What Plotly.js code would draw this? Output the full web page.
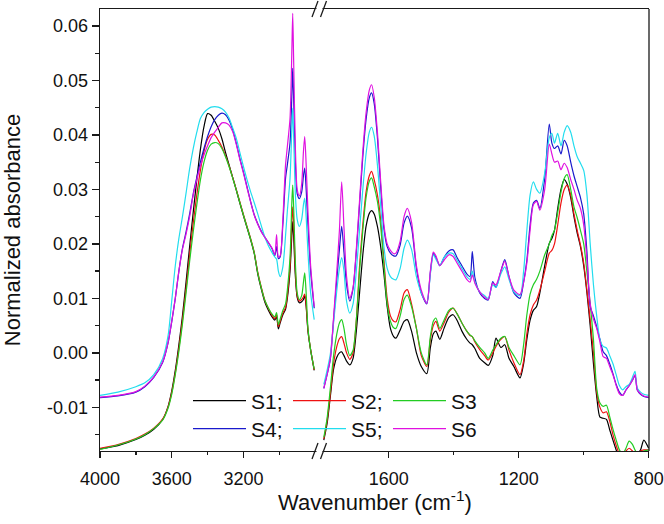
<!DOCTYPE html>
<html>
<head>
<meta charset="utf-8">
<script src="https://cdn.plot.ly/plotly-3.0.1.min.js"></script>
<style>html,body{margin:0;padding:0;background:#fff;}#chart{width:664px;height:524px;}</style>
</head>
<body>
<div id="chart"></div>
<script>
// ---- data ----
const seriesNames = ["S1;", "S2;", "S3", "S4;", "S5;", "S6"];
const seriesColors = ["#000000", "#ee1111", "#22cc22", "#1a1acc", "#22ddee", "#e011e0"];

const leftWavenumber = [4000,3900,3800,3750,3700,3650,3620,3600,3580,3560,3540,3520,3500,3480,3460,3440,3420,3400,3380,3360,3340,3320,3300,3280,3260,3240,3220,3200,3180,3160,3140,3120,3100,3080,3060,3040,3025,3015,3005,2995,2980,2965,2955,2940,2930,2925,2920,2910,2900,2888,2875,2865,2858,2850,2840,2825,2805];

const rightWavenumber = [1800,1790,1780,1770,1760,1752,1745,1738,1730,1720,
1710,1700,1690,1680,1670,1660,1653,1645,1635,1625,
1615,1605,1595,1585,1578,1565,1553,1543,1530,1515,
1500,1483,1472,1463,1455,1443,1430,1415,1402,1390,
1375,1360,1350,1343,1335,1320,1305,1294,1280,1270,
1255,1243,1230,1215,1196,1185,1175,1165,1155,1145,
1135,1120,1106,1098,1090,1080,1070,1060,1051,1040,
1030,1020,1010,1000,990,980,970,960,950,940,
930,920,910,900,890,880,870,860,850,842,
835,825,815,800];

const s1Left = [-0.0176,-0.0170,-0.0159,-0.0151,-0.0140,-0.0122,-0.0098,-0.0070,-0.0032,0.0015,0.0068,0.0130,0.0195,0.0258,0.0318,0.0373,0.0415,0.0439,0.0436,0.0425,0.0412,0.0393,0.0368,0.0345,0.0322,0.0299,0.0275,0.0252,0.0230,0.0208,0.0183,0.0145,0.0117,0.0093,0.0078,0.0066,0.0060,0.0066,0.0044,0.0055,0.0070,0.0080,0.0100,0.0150,0.0215,0.0241,0.0215,0.0140,0.0102,0.0092,0.0094,0.0098,0.0105,0.0085,0.0040,0.0005,-0.0032];
const s2Left = [-0.0175,-0.0168,-0.0157,-0.0149,-0.0138,-0.0121,-0.0099,-0.0073,-0.0037,0.0008,0.0060,0.0118,0.0180,0.0238,0.0290,0.0335,0.0370,0.0392,0.0401,0.0400,0.0390,0.0378,0.0362,0.0343,0.0322,0.0300,0.0277,0.0254,0.0232,0.0210,0.0185,0.0148,0.0120,0.0096,0.0081,0.0069,0.0063,0.0070,0.0048,0.0058,0.0073,0.0083,0.0105,0.0160,0.0240,0.0268,0.0240,0.0150,0.0105,0.0095,0.0098,0.0103,0.0108,0.0088,0.0042,0.0006,-0.0031];
const s3Left = [-0.0177,-0.0169,-0.0158,-0.0150,-0.0139,-0.0123,-0.0101,-0.0076,-0.0040,0.0003,0.0053,0.0110,0.0168,0.0222,0.0272,0.0317,0.0350,0.0372,0.0383,0.0386,0.0384,0.0375,0.0360,0.0342,0.0321,0.0299,0.0276,0.0253,0.0231,0.0209,0.0184,0.0147,0.0119,0.0096,0.0082,0.0071,0.0066,0.0074,0.0052,0.0062,0.0078,0.0090,0.0115,0.0175,0.0275,0.0308,0.0270,0.0165,0.0110,0.0098,0.0105,0.0130,0.0147,0.0110,0.0045,0.0005,-0.0030];
const s4Left = [-0.0082,-0.0079,-0.0072,-0.0062,-0.0045,-0.0017,0.0019,0.0057,0.0100,0.0150,0.0192,0.0222,0.0255,0.0292,0.0322,0.0350,0.0375,0.0397,0.0415,0.0428,0.0436,0.0440,0.0437,0.0427,0.0410,0.0385,0.0357,0.0332,0.0305,0.0278,0.0254,0.0237,0.0223,0.0212,0.0202,0.0191,0.0178,0.0195,0.0173,0.0176,0.0235,0.0320,0.0345,0.0385,0.0470,0.0522,0.0470,0.0350,0.0292,0.0283,0.0295,0.0325,0.0339,0.0300,0.0235,0.0150,0.0082];
const s5Left = [-0.0078,-0.0072,-0.0062,-0.0055,-0.0040,-0.0010,0.0032,0.0095,0.0160,0.0210,0.0250,0.0293,0.0338,0.0375,0.0405,0.0430,0.0441,0.0447,0.0451,0.0452,0.0451,0.0448,0.0442,0.0431,0.0413,0.0394,0.0368,0.0342,0.0318,0.0296,0.0276,0.0255,0.0233,0.0212,0.0196,0.0184,0.0176,0.0172,0.0150,0.0140,0.0158,0.0215,0.0260,0.0320,0.0410,0.0449,0.0400,0.0290,0.0245,0.0232,0.0245,0.0272,0.0284,0.0250,0.0185,0.0110,0.0061];
const s6Left = [-0.0081,-0.0078,-0.0071,-0.0061,-0.0044,-0.0016,0.0020,0.0058,0.0100,0.0150,0.0190,0.0218,0.0250,0.0290,0.0318,0.0343,0.0363,0.0380,0.0395,0.0405,0.0414,0.0422,0.0422,0.0418,0.0406,0.0383,0.0355,0.0330,0.0303,0.0277,0.0253,0.0236,0.0222,0.0212,0.0202,0.0192,0.0180,0.0217,0.0176,0.0178,0.0245,0.0345,0.0378,0.0430,0.0550,0.0623,0.0540,0.0375,0.0300,0.0288,0.0310,0.0370,0.0397,0.0345,0.0260,0.0160,0.0085];

const s1Right = [-0.0160,-0.0130,-0.0080,-0.0030,-0.0008,0.0000,0.0002,-0.0005,-0.0015,-0.0022,
-0.0010,0.0040,0.0110,0.0180,0.0232,0.0256,0.0261,0.0255,0.0232,0.0195,
0.0145,0.0085,0.0045,0.0030,0.0027,0.0042,0.0058,0.0061,0.0040,0.0000,
-0.0025,-0.0038,0.0010,0.0035,0.0040,0.0025,0.0045,0.0065,0.0070,0.0060,
0.0040,0.0025,0.0018,0.0015,0.0008,-0.0010,-0.0018,-0.0023,-0.0005,0.0027,
0.0010,0.0015,-0.0010,-0.0025,-0.0046,-0.0020,0.0025,0.0060,0.0078,0.0085,
0.0110,0.0160,0.0201,0.0210,0.0225,0.0265,0.0300,0.0318,0.0310,0.0285,
0.0250,0.0220,0.0195,0.0160,0.0110,0.0050,-0.0020,-0.0080,-0.0118,-0.0120,
-0.0122,-0.0141,-0.0160,-0.0178,-0.0190,-0.0195,-0.0193,-0.0190,-0.0188,-0.0188,
-0.0185,-0.0178,-0.0160,-0.0175];
const s2Right = [-0.0158,-0.0125,-0.0075,-0.0020,0.0012,0.0026,0.0030,0.0018,0.0000,-0.0012,
0.0000,0.0060,0.0160,0.0235,0.0295,0.0325,0.0333,0.0318,0.0290,0.0245,
0.0170,0.0100,0.0068,0.0058,0.0057,0.0080,0.0110,0.0116,0.0090,0.0045,
-0.0005,-0.0025,0.0025,0.0050,0.0058,0.0040,0.0055,0.0075,0.0082,0.0072,
0.0055,0.0040,0.0032,0.0030,0.0020,0.0006,-0.0005,-0.0013,0.0000,0.0012,
0.0025,0.0030,0.0005,-0.0018,-0.0040,-0.0015,0.0035,0.0070,0.0088,0.0097,
0.0115,0.0150,0.0183,0.0188,0.0200,0.0235,0.0275,0.0300,0.0308,0.0290,
0.0255,0.0225,0.0198,0.0165,0.0115,0.0060,0.0000,-0.0072,-0.0100,-0.0110,
-0.0108,-0.0125,-0.0150,-0.0170,-0.0185,-0.0188,-0.0180,-0.0175,-0.0180,-0.0185,
-0.0185,-0.0180,-0.0178,-0.0178];
const s3Right = [-0.0155,-0.0120,-0.0065,-0.0005,0.0035,0.0055,0.0061,0.0045,0.0015,-0.0005,
0.0005,0.0060,0.0150,0.0225,0.0285,0.0315,0.0321,0.0305,0.0278,0.0232,
0.0160,0.0090,0.0058,0.0046,0.0045,0.0068,0.0098,0.0106,0.0085,0.0045,
0.0000,-0.0022,0.0030,0.0058,0.0064,0.0045,0.0060,0.0078,0.0082,0.0072,
0.0055,0.0040,0.0033,0.0030,0.0022,0.0010,0.0000,-0.0010,0.0005,0.0015,
0.0027,0.0030,0.0010,-0.0005,-0.0022,0.0015,0.0070,0.0108,0.0125,0.0135,
0.0150,0.0180,0.0200,0.0215,0.0225,0.0258,0.0295,0.0320,0.0327,0.0300,
0.0268,0.0248,0.0225,0.0200,0.0148,0.0090,0.0025,-0.0065,-0.0092,-0.0098,
-0.0096,-0.0117,-0.0140,-0.0160,-0.0178,-0.0185,-0.0175,-0.0162,-0.0168,-0.0178,
-0.0185,-0.0183,-0.0180,-0.0178];
const s4Right = [-0.0065,-0.0040,-0.0012,0.0060,0.0135,0.0190,0.0232,0.0185,0.0125,0.0095,
0.0118,0.0185,0.0272,0.0360,0.0428,0.0468,0.0477,0.0458,0.0395,0.0305,
0.0228,0.0195,0.0183,0.0178,0.0178,0.0198,0.0238,0.0251,0.0230,0.0155,
0.0110,0.0090,0.0148,0.0182,0.0175,0.0160,0.0175,0.0187,0.0189,0.0175,
0.0160,0.0145,0.0140,0.0186,0.0138,0.0110,0.0100,0.0097,0.0131,0.0120,
0.0150,0.0171,0.0140,0.0110,0.0100,0.0130,0.0170,0.0235,0.0275,0.0280,
0.0265,0.0320,0.0420,0.0385,0.0375,0.0380,0.0365,0.0390,0.0380,0.0350,
0.0325,0.0305,0.0285,0.0255,0.0185,0.0085,0.0068,0.0048,0.0025,0.0002,
-0.0005,-0.0020,-0.0038,-0.0058,-0.0072,-0.0078,-0.0068,-0.0060,-0.0050,-0.0042,
-0.0068,-0.0076,-0.0080,-0.0082];
const s5Right = [-0.0058,-0.0032,-0.0002,0.0055,0.0115,0.0155,0.0175,0.0150,0.0095,0.0073,
0.0090,0.0150,0.0225,0.0300,0.0365,0.0405,0.0414,0.0398,0.0345,0.0270,
0.0195,0.0155,0.0140,0.0135,0.0134,0.0155,0.0192,0.0207,0.0190,0.0140,
0.0110,0.0093,0.0145,0.0180,0.0172,0.0160,0.0175,0.0183,0.0182,0.0170,
0.0155,0.0140,0.0135,0.0150,0.0130,0.0112,0.0105,0.0100,0.0125,0.0120,
0.0145,0.0158,0.0135,0.0112,0.0105,0.0150,0.0225,0.0290,0.0314,0.0300,
0.0293,0.0330,0.0395,0.0403,0.0385,0.0403,0.0380,0.0405,0.0417,0.0405,
0.0380,0.0360,0.0348,0.0335,0.0290,0.0200,0.0125,0.0068,0.0024,0.0012,
0.0009,-0.0005,-0.0020,-0.0040,-0.0060,-0.0068,-0.0062,-0.0058,-0.0045,-0.0034,
-0.0065,-0.0072,-0.0076,-0.0078];
const s6Right = [-0.0065,-0.0040,-0.0010,0.0065,0.0150,0.0225,0.0314,0.0230,0.0140,0.0100,
0.0120,0.0190,0.0280,0.0370,0.0440,0.0482,0.0492,0.0470,0.0405,0.0315,
0.0235,0.0200,0.0188,0.0182,0.0183,0.0205,0.0250,0.0265,0.0240,0.0160,
0.0115,0.0091,0.0150,0.0185,0.0178,0.0160,0.0170,0.0180,0.0177,0.0165,
0.0150,0.0135,0.0130,0.0143,0.0128,0.0112,0.0102,0.0098,0.0128,0.0125,
0.0150,0.0168,0.0140,0.0115,0.0107,0.0130,0.0165,0.0225,0.0272,0.0278,
0.0262,0.0300,0.0383,0.0365,0.0350,0.0352,0.0336,0.0348,0.0340,0.0318,
0.0300,0.0280,0.0265,0.0235,0.0170,0.0090,0.0062,0.0045,0.0020,-0.0007,
-0.0010,-0.0025,-0.0040,-0.0060,-0.0075,-0.0078,-0.0068,-0.0060,-0.0050,-0.0040,
-0.0068,-0.0075,-0.0079,-0.0081];

const leftSeries = [s1Left, s2Left, s3Left, s4Left, s5Left, s6Left];
const rightSeries = [s1Right, s2Right, s3Right, s4Right, s5Right, s6Right];

const leftTickVals = [4000, 3600, 3200];
const leftMinorVals = [3800, 3400, 3000];
const rightTickVals = [1600, 1200, 800];
const rightMinorVals = [1400, 1000];
const yTickVals = [-0.01, 0.00, 0.01, 0.02, 0.03, 0.04, 0.05, 0.06];
const yTickText = ["-0.01", "0.00", "0.01", "0.02", "0.03", "0.04", "0.05", "0.06"];

// ---- traces ----
const traces = [];
for (let i = 0; i < seriesNames.length; i++) {
  const legendId = i < 3 ? "legend" : "legend2";
  traces.push({
    x: leftWavenumber, y: leftSeries[i], xaxis: "x", yaxis: "y",
    type: "scatter", mode: "lines", name: seriesNames[i],
    line: {color: seriesColors[i], width: 1.2, shape: "spline", smoothing: 0.7},
    showlegend: false, legendgroup: "g" + i, legend: legendId, hoverinfo: "skip"
  });
  traces.push({
    x: rightWavenumber, y: rightSeries[i], xaxis: "x2", yaxis: "y",
    type: "scatter", mode: "lines", name: seriesNames[i],
    line: {color: seriesColors[i], width: 1.2, shape: "spline", smoothing: 0.7},
    showlegend: true, legendgroup: "g" + i, legend: legendId, hoverinfo: "skip"
  });
}

// ---- layout ----
const FONT = 'Arial, "Liberation Sans", sans-serif';
const L = 100, R = 649, T = 9, B = 451;
const px = v => (v - L) / (R - L);
const py = v => (B - v) / (B - T);
const axisCommon = {
  showline: true, linecolor: "#1a1a1a", linewidth: 1.3, mirror: true,
  showgrid: false, zeroline: false, ticks: "outside", ticklen: 6, tickwidth: 1.3,
  tickcolor: "#1a1a1a", tickfont: {family: FONT, size: 18, color: "#111"}
};
const breakShapes = [];
[B, T].forEach(yy => {
  breakShapes.push({type: "rect", xref: "paper", yref: "paper",
    x0: px(316.5), x1: px(322.5), y0: py(yy + 2.5), y1: py(yy - 2.5),
    fillcolor: "#ffffff", line: {width: 0}, layer: "above"});
  breakShapes.push({type: "line", xref: "paper", yref: "paper",
    x0: px(312), y0: py(yy + 8), x1: px(318), y1: py(yy - 8),
    line: {color: "#1a1a1a", width: 1.3}, layer: "above"});
  breakShapes.push({type: "line", xref: "paper", yref: "paper",
    x0: px(320.5), y0: py(yy + 8), x1: px(326.5), y1: py(yy - 8),
    line: {color: "#1a1a1a", width: 1.3}, layer: "above"});
});
breakShapes.push({type: "line", xref: "paper", yref: "paper",
  x0: 1, x1: 1, y0: 0, y1: 1, line: {color: "#1a1a1a", width: 1.3}, layer: "above"});

const legendCommon = {
  orientation: "h", xanchor: "left", yanchor: "middle",
  bgcolor: "rgba(0,0,0,0)", borderwidth: 0, itemwidth: 53,
  entrywidth: 32, entrywidthmode: "pixels",
  font: {family: FONT, size: 21, color: "#111"}, itemclick: false, itemdoubleclick: false
};

const layout = {
  width: 664, height: 524,
  margin: {l: L, r: 664 - R, t: T, b: 524 - B},
  paper_bgcolor: "#ffffff", plot_bgcolor: "#ffffff",
  font: {family: FONT, color: "#111"},
  showlegend: true,
  xaxis: Object.assign({}, axisCommon, {
    domain: [0, 0.4], range: [4000, 2775], anchor: "y", ticklabelstandoff: 5,
    tickmode: "array", tickvals: leftTickVals,
    minor: {tickmode: "array", tickvals: leftMinorVals, ticks: "outside", ticklen: 3, tickwidth: 1.3, tickcolor: "#1a1a1a"}
  }),
  xaxis2: Object.assign({}, axisCommon, {
    domain: [0.4, 1], range: [1813, 799], anchor: "y", ticklabelstandoff: 5,
    tickmode: "array", tickvals: rightTickVals,
    minor: {tickmode: "array", tickvals: rightMinorVals, ticks: "outside", ticklen: 3, tickwidth: 1.3, tickcolor: "#1a1a1a"}
  }),
  yaxis: Object.assign({}, axisCommon, {
    domain: [0, 1], range: [-0.018, 0.0631], anchor: "x", mirror: false, ticklen: 7,
    tickmode: "array", tickvals: yTickVals, ticktext: yTickText,
    minor: {dtick: 0.005, tick0: 0, ticks: "outside", ticklen: 4, tickwidth: 1.3, tickcolor: "#1a1a1a"},
    title: {text: "Normalized absorbance", font: {family: FONT, size: 22, color: "#111"}, standoff: 33}
  }),
  annotations: [{
    text: "Wavenumber (cm<sup>-1</sup>)", xref: "paper", yref: "paper",
    x: 0.5, y: 0, yshift: -50, xanchor: "center", yanchor: "middle", showarrow: false,
    font: {family: FONT, size: 22, color: "#111"}
  }],
  legend: Object.assign({}, legendCommon, {x: px(188), y: py(401)}),
  legend2: Object.assign({}, legendCommon, {x: px(188), y: py(429)}),
  shapes: breakShapes
};

Plotly.newPlot("chart", traces, layout, {staticPlot: true, displayModeBar: false});
</script>
</body>
</html>
